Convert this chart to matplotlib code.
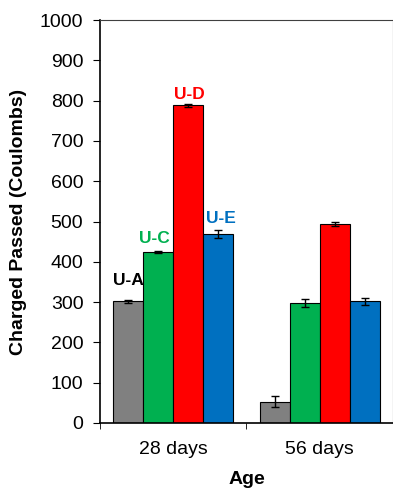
import matplotlib.pyplot as plt
import numpy as np

plt.rcParams['font.family'] = ['Liberation Sans', 'DejaVu Sans']

ages = ["28 days", "56 days"]
mixes = ["U-A", "U-C", "U-D", "U-E"]
colors = ["#808080", "#00B050", "#FF0000", "#0070C0"]
label_colors = ["#000000", "#00B050", "#FF0000", "#0070C0"]
values = {
    "U-A": [302, 53],
    "U-C": [425, 298],
    "U-D": [788, 494],
    "U-E": [469, 302],
}
errors = {
    "U-A": [4, 14],
    "U-C": [2, 10],
    "U-D": [4, 5],
    "U-E": [9, 8],
}
# label nudges (points) for the series names above the 28-day bars
label_offsets = [(0, 11.5), (-3, 6.5), (0.5, 4.5), (2, 8)]

fig = plt.figure(figsize=(3.93, 4.95), dpi=100, facecolor="white")
ax = fig.add_axes([0.2545, 0.1455, 0.745, 0.814])

x = np.arange(len(ages))
w = 0.205
for i, m in enumerate(mixes):
    pos = x + (i - 1.5) * w
    ax.bar(pos, values[m], w, color=colors[i], edgecolor="black", linewidth=0.8,
           yerr=errors[m], capsize=3, error_kw={"elinewidth": 1, "capthick": 1})
    ax.annotate(m, xy=(pos[0], values[m][0]), xytext=label_offsets[i],
                textcoords="offset points", ha="center", va="baseline",
                color=label_colors[i], fontsize=12.5, fontweight="bold")

ax.set_xlim(-0.5, 1.5)
ax.set_ylim(0, 1000)
ax.set_yticks(np.arange(0, 1001, 100))
ax.set_xticks(x)
ax.set_xticklabels(ages, fontsize=14)
ax.set_xticks([-0.5, 0.5, 1.5], minor=True)
ax.tick_params(axis="x", which="major", length=0, pad=13)
ax.tick_params(axis="x", which="minor", length=4, direction="out")
ax.tick_params(axis="y", labelsize=14, length=5, direction="out", pad=7)
ax.set_ylabel("Charged Passed (Coulombs)", fontsize=14, fontweight="bold", labelpad=9)
ax.set_xlabel("Age", fontsize=14, fontweight="bold", labelpad=9)
for s in ["left", "bottom"]:
    ax.spines[s].set_linewidth(1.2)
for s in ["top", "right"]:
    ax.spines[s].set_color("#404040")

fig.savefig("out.png", dpi=100, facecolor="white")
